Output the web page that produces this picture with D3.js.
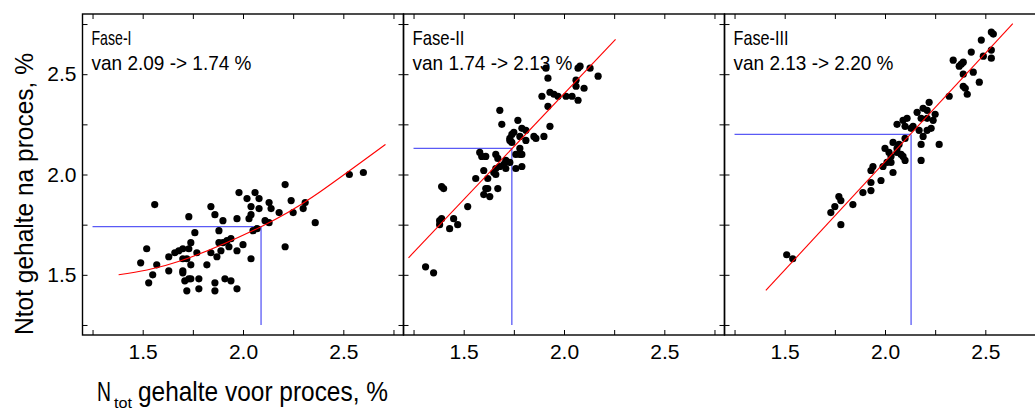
<!DOCTYPE html>
<html>
<head>
<meta charset="utf-8">
<script src="https://cdn.jsdelivr.net/npm/d3@7"></script>
<style>
  body { margin: 0; background: #fff; }
  text { font-family: "Liberation Sans", Arial, sans-serif; fill: #000; }
</style>
</head>
<body>
<svg id="chart" width="1035" height="410"></svg>
<script>
// N-totaal voor (x) en na (y) proces, per fase
const fase1X = [1.56, 1.73, 1.84, 1.86, 1.90, 1.98, 2.02, 2.06, 2.08, 2.04, 2.08, 1.97, 2.04, 2.03, 2.11, 2.13, 2.14, 2.18, 2.21, 2.24,
                2.25, 2.30, 2.31, 2.36, 2.13, 2.53, 2.60, 2.05, 2.07, 1.88, 1.76, 1.74, 1.88, 1.90, 1.92, 1.94, 1.93, 1.89, 1.97, 2.00,
                1.87, 1.84, 1.77, 1.73, 1.70, 1.68, 1.66, 1.63, 1.70, 1.72, 1.74, 1.52, 1.49, 1.57, 1.63, 1.55, 1.53, 1.70, 1.70, 1.71,
                1.73, 1.74, 1.78, 1.78, 1.72, 1.82, 1.86, 1.86, 1.91, 1.94, 1.97, 2.04, 2.21];
const fase1Y = [1.85, 1.79, 1.84, 1.80, 1.77, 1.91, 1.88, 1.91, 1.88, 1.84, 1.83, 1.78, 1.80, 1.78, 1.77, 1.86, 1.83, 1.81, 1.95, 1.87,
                1.81, 1.83, 1.86, 1.76, 1.76, 2.00, 2.01, 1.72, 1.73, 1.72, 1.71, 1.66, 1.66, 1.66, 1.67, 1.68, 1.64, 1.62, 1.62, 1.65,
                1.59, 1.61, 1.61, 1.63, 1.63, 1.62, 1.61, 1.59, 1.58, 1.58, 1.55, 1.63, 1.56, 1.55, 1.52, 1.50, 1.46, 1.52, 1.51, 1.47,
                1.48, 1.48, 1.48, 1.43, 1.42, 1.55, 1.46, 1.42, 1.48, 1.47, 1.43, 1.58, 1.64];

const fase2X = [1.31, 1.35, 1.39, 1.40, 1.38, 1.39, 1.38, 1.43, 1.45, 1.47, 1.52, 1.56, 1.58, 1.59, 1.61, 1.60, 1.62, 1.61, 1.62, 1.60,
                1.63, 1.67, 1.66, 1.67, 1.66, 1.65, 1.66, 1.68, 1.71, 1.71, 1.70, 1.73, 1.68, 1.69, 1.73, 1.74, 1.75, 1.74, 1.73, 1.77,
                1.78, 1.79, 1.81, 1.81, 1.78, 1.76, 1.78, 1.79, 1.76, 1.79, 1.85, 1.86, 1.90, 1.93, 1.92, 1.89, 1.93, 1.95, 1.97, 2.01,
                2.04, 2.07, 1.92, 1.91, 2.06, 2.06, 2.10, 2.07, 2.08, 2.13, 2.17];
const fase2Y = [1.54, 1.51, 1.94, 1.93, 1.77, 1.78, 1.75, 1.73, 1.78, 1.75, 1.84, 1.98, 2.11, 2.09, 2.09, 2.02, 1.98, 1.93, 1.93, 1.90,
                1.89, 1.93, 2.10, 2.08, 2.03, 2.01, 2.00, 2.04, 2.07, 2.03, 2.05, 2.06, 2.32, 2.25, 2.18, 2.20, 2.21, 2.16, 2.17, 2.27,
                2.19, 2.23, 2.22, 2.17, 2.13, 2.10, 2.10, 2.10, 2.03, 2.04, 2.19, 2.18, 2.19, 2.24, 2.34, 2.39, 2.41, 2.40, 2.39, 2.39,
                2.39, 2.37, 2.48, 2.53, 2.47, 2.44, 2.43, 2.53, 2.54, 2.53, 2.49];

const fase3X = [1.51, 1.54, 1.73, 1.75, 1.77, 1.78, 1.78, 1.84, 1.89, 1.93, 1.93, 1.93, 1.94, 1.98, 1.99, 2.00, 2.01, 2.02, 2.03, 2.03,
                2.04, 2.04, 2.06, 2.06, 2.07, 2.08, 2.09, 2.10, 2.10, 2.06, 2.09, 2.11, 2.10, 2.13, 2.14, 2.16, 2.17, 2.18, 2.19, 2.21,
                2.22, 2.21, 2.21, 2.23, 2.19, 2.18, 2.18, 2.24, 2.25, 2.27, 2.32, 2.34, 2.37, 2.38, 2.39, 2.39, 2.39, 2.40, 2.41, 2.44,
                2.43, 2.47, 2.48, 2.49, 2.53, 2.53, 2.53, 2.54];
const fase3Y = [1.60, 1.58, 1.81, 1.84, 1.89, 1.87, 1.75, 1.85, 1.91, 1.92, 1.96, 2.02, 2.04, 1.97, 2.04, 2.13, 2.06, 2.11, 2.09, 2.06,
                2.01, 2.16, 2.13, 2.11, 2.15, 2.10, 2.09, 2.07, 2.18, 2.25, 2.27, 2.28, 2.24, 2.23, 2.24, 2.31, 2.22, 2.28, 2.33, 2.32,
                2.36, 2.28, 2.22, 2.23, 2.19, 2.15, 2.07, 2.27, 2.30, 2.15, 2.39, 2.57, 2.54, 2.55, 2.56, 2.50, 2.44, 2.43, 2.40, 2.51,
                2.61, 2.46, 2.67, 2.59, 2.58, 2.62, 2.71, 2.70];

const fit1X = [1.38, 1.69, 2.09, 2.35, 2.71];
const fit1Y = [1.50, 1.57, 1.74, 1.89, 2.15];
const fit2X = [1.225, 2.257];
const fit2Y = [1.585, 2.673];
const fit3X = [1.406, 2.637];
const fit3Y = [1.422, 2.752];

// blauwe hulplijnen: [gemiddelde voor, voorspeld na]
const ref1 = [2.09, 1.74];
const ref2 = [1.74, 2.13];
const ref3 = [2.13, 2.20];

const faseNames = ['Fase-I', 'Fase-II', 'Fase-III'];
const faseTexts = ['van 2.09 -> 1.74 %', 'van 1.74 -> 2.13 %', 'van 2.13 -> 2.20 %'];

const majorTicks = [1.5, 2.0, 2.5];
const minorTicks = [1.25, 1.75, 2.25, 2.75];
const domain = [1.2, 2.8];
const refStart = 1.25;

const panels = [
  {xs: fase1X, ys: fase1Y, fx: fit1X, fy: fit1Y, ref: ref1},
  {xs: fase2X, ys: fase2Y, fx: fit2X, fy: fit2Y, ref: ref2},
  {xs: fase3X, ys: fase3Y, fx: fit3X, fy: fit3Y, ref: ref3}
];

const left0 = 82.5, plotTop = 14, size = 321;
// smal lettertype nabootsen: breedte van de labels in het origineel
const nameWidths = [40, 52, 55];

const svg = d3.select('#chart');
const fmt = d3.format('.1f');

const y = d3.scaleLinear().domain(domain).range([plotTop + size, plotTop]);

panels.forEach(function(p, i) {
  const x0 = left0 + i * size;
  const x = d3.scaleLinear().domain(domain).range([x0, x0 + size]);
  const allTicks = majorTicks.concat(minorTicks);
  const g = svg.append('g');

  // ticks naar binnen op alle zijden
  const tickAxes = [
    [d3.axisBottom(x), 'translate(0,' + (plotTop + size) + ')'],
    [d3.axisTop(x), 'translate(0,' + plotTop + ')'],
    [d3.axisLeft(y), 'translate(' + x0 + ',0)'],
    [d3.axisRight(y), 'translate(' + (x0 + size) + ',0)']
  ];
  tickAxes.forEach(function(a) {
    const ax = g.append('g')
      .attr('transform', a[1])
      .call(a[0].tickValues(allTicks).tickSize(-5).tickFormat(''));
    ax.select('.domain').remove();
    ax.selectAll('line').attr('stroke', '#000').attr('stroke-width', 1);
  });

  // x-labels
  const xl = g.append('g')
    .attr('transform', 'translate(0,' + (plotTop + size) + ')')
    .call(d3.axisBottom(x).tickValues(majorTicks).tickSize(0).tickPadding(9).tickFormat(fmt));
  xl.select('.domain').remove();
  xl.selectAll('text').style('font-size', '21px').attr('fill', '#000')
    .style('font-family', '"Liberation Sans", Arial, sans-serif');

  if (i === 0) {
    const yl = g.append('g')
      .attr('transform', 'translate(' + x0 + ',0)')
      .call(d3.axisLeft(y).tickValues(majorTicks).tickSize(0).tickPadding(6).tickFormat(fmt));
    yl.select('.domain').remove();
    yl.selectAll('text').style('font-size', '21px').attr('fill', '#000')
      .style('font-family', '"Liberation Sans", Arial, sans-serif');
  }

  // blauwe hulplijnen
  g.append('line')
    .attr('x1', x(refStart)).attr('x2', x(p.ref[0]))
    .attr('y1', y(p.ref[1])).attr('y2', y(p.ref[1]))
    .style('stroke', '#5a5af5').style('stroke-width', 1.3);
  g.append('line')
    .attr('x1', x(p.ref[0])).attr('x2', x(p.ref[0]))
    .attr('y1', y(p.ref[1])).attr('y2', y(refStart))
    .style('stroke', '#5a5af5').style('stroke-width', 1.3);

  // punten
  g.selectAll('circle')
    .data(d3.zip(p.xs, p.ys))
    .enter().append('circle')
    .attr('cx', function(d) { return x(d[0]); })
    .attr('cy', function(d) { return y(d[1]); })
    .attr('r', 3.6)
    .attr('fill', '#000');

  // fitlijn
  const line = d3.line()
    .x(function(d) { return x(d[0]); })
    .y(function(d) { return y(d[1]); })
    .curve(d3.curveNatural);
  g.append('path')
    .datum(d3.zip(p.fx, p.fy))
    .attr('d', line)
    .attr('fill', 'none')
    .style('stroke', '#ff0000')
    .style('stroke-width', 1.1);

  // kader
  g.append('rect')
    .attr('x', x0).attr('y', plotTop)
    .attr('width', size).attr('height', size)
    .attr('fill', 'none')
    .style('stroke', '#000')
    .style('stroke-width', 1.4);

  g.append('text')
    .attr('x', x0 + 9).attr('y', 45)
    .attr('textLength', nameWidths[i]).attr('lengthAdjust', 'spacingAndGlyphs')
    .style('font-size', '21px')
    .text(faseNames[i]);
  g.append('text')
    .attr('x', x0 + 9).attr('y', 70)
    .attr('textLength', 160).attr('lengthAdjust', 'spacingAndGlyphs')
    .style('font-size', '21px')
    .text(faseTexts[i]);
});

// as-titels
svg.append('text')
  .attr('transform', 'translate(33,194) rotate(-90)')
  .attr('text-anchor', 'middle')
  .attr('textLength', 282).attr('lengthAdjust', 'spacingAndGlyphs')
  .style('font-size', '26px')
  .text('Ntot gehalte na proces, %');

svg.append('text')
  .attr('x', 97).attr('y', 401)
  .attr('textLength', 14).attr('lengthAdjust', 'spacingAndGlyphs')
  .style('font-size', '28px')
  .text('N');
svg.append('text')
  .attr('x', 114).attr('y', 408)
  .attr('textLength', 18).attr('lengthAdjust', 'spacingAndGlyphs')
  .style('font-size', '14px')
  .text('tot');
svg.append('text')
  .attr('x', 138).attr('y', 401)
  .attr('textLength', 250).attr('lengthAdjust', 'spacingAndGlyphs')
  .style('font-size', '28px')
  .text('gehalte voor proces, %');
</script>
</body>
</html>
